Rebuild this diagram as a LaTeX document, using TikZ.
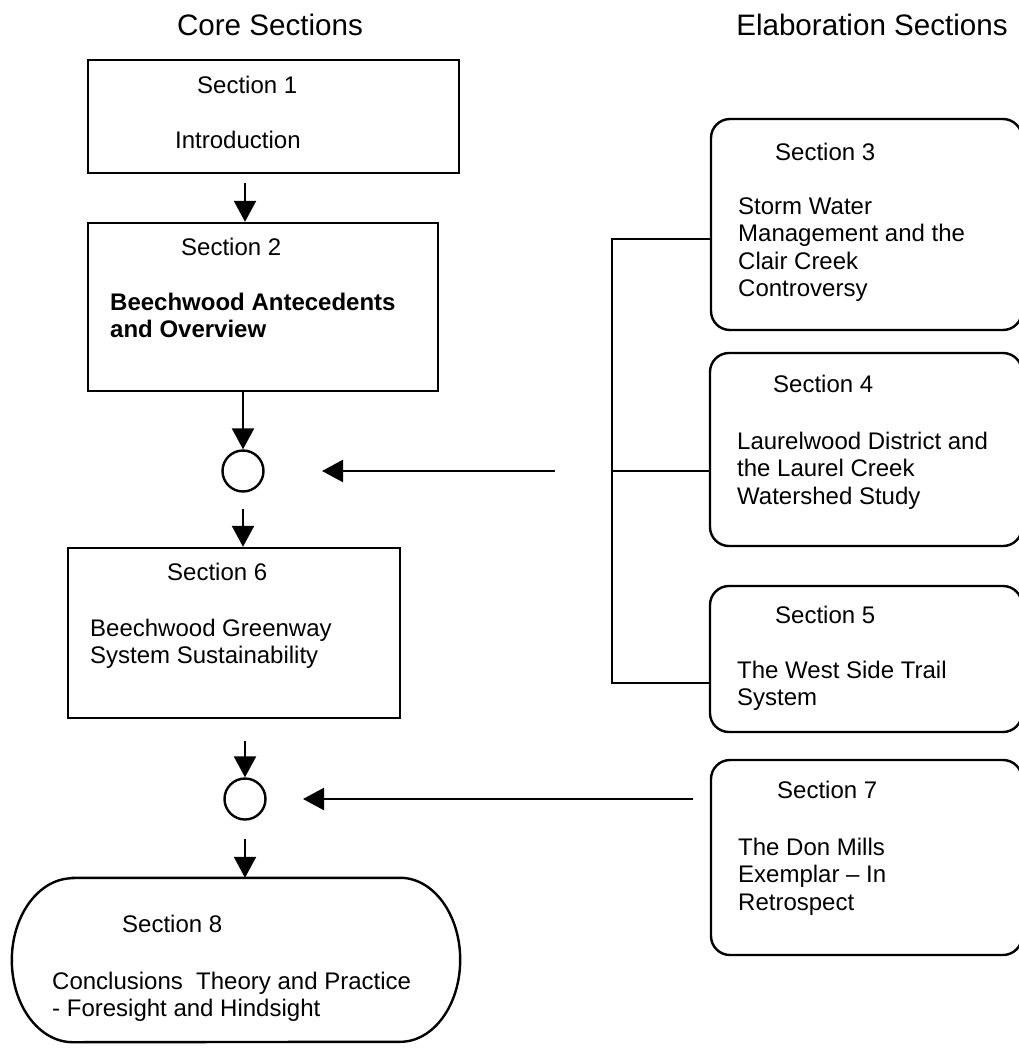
\documentclass[tikz,border=0pt]{standalone}
\usepackage{fontspec}
\setmainfont{Liberation Sans}
\usetikzlibrary{arrows.meta, positioning}
\tikzset{
  corebox/.style  = {rectangle, draw, line width=2.4pt, inner sep=0pt},
  elabbox/.style  = {corebox, rounded corners=19pt},
  pill/.style     = {rectangle, inner sep=0pt},
  junction/.style = {circle, draw, line width=2.4pt, minimum size=41pt, inner sep=0pt},
  flow/.style     = {line width=2.4pt, -{Triangle[length=21pt, width=22pt]}},
  link/.style     = {line width=2pt},
  head/.style     = {font=\fontsize{29.6}{34}\selectfont, inner sep=0pt, anchor=base},
  sec/.style      = {font=\fontsize{24}{27.5}\selectfont, inner sep=0pt, anchor=base west},
  body/.style     = {sec, align=left, anchor=north west},
  bodybf/.style   = {body, font=\fontsize{24}{27.5}\selectfont\bfseries},
}

\begin{document}
\begin{tikzpicture}[x=1pt, y=-1pt]
  \useasboundingbox (0,0) rectangle (1019,1052);
  % ---- headings
  \node[head] (core) at (270,35) {Core Sections};
  \node[head] (elab) at (872,35) {Elaboration Sections};
  % ---- core column
  \node[corebox, minimum width=371pt, minimum height=113pt] (s1) at (273.5,116.5) {};
  \node[sec] (n1) at (197,93) {Section 1};
  \node[sec] (d1) at (175,148) {Introduction};
  \node[corebox, minimum width=350pt, minimum height=168pt] (s2) at (263,307) {};
  \node[sec] (n2) at (181,255) {Section 2};
  \node[bodybf] (d2) at (110,292.5) {Beechwood Antecedents\\and Overview};
  \node[junction] (c1) at (243,471) {};
  \node[corebox, minimum width=332pt, minimum height=170pt] (s6) at (234,633) {};
  \node[sec] (n6) at (167,580) {Section 6};
  \node[body] (d6) at (90,618.5) {Beechwood Greenway\\System Sustainability};
  \node[junction] (c2) at (245,799) {};
  \node[pill, minimum width=327pt, minimum height=164pt] (s8) at (236.5,960) {};
  \draw[line width=2.4pt] (s8.north west) -- (s8.north east)
    arc[start angle=90, end angle=-90, x radius=60pt, y radius=82pt] -- (s8.south west)
    arc[start angle=270, end angle=90, x radius=61pt, y radius=82pt] -- cycle;
  \node[sec] (n8) at (122,932) {Section 8};
  \node[body] (d8) at (52,971.5) {Conclusions\ \ Theory and Practice\\- Foresight and Hindsight};
  % ---- elaboration column
  \node[elabbox, minimum width=311pt, minimum height=211pt] (s3) at (866.5,224.5) {};
  \node[sec] (n3) at (775,160) {Section 3};
  \node[body] (d3) at (738,197.5) {Storm Water\\Management and the\\Clair Creek\\Controversy};
  \node[elabbox, minimum width=312pt, minimum height=193pt] (s4) at (866,449.5) {};
  \node[sec] (n4) at (773,392) {Section 4};
  \node[body] (d4) at (737,431.5) {Laurelwood District and\\the Laurel Creek\\Watershed Study};
  \node[elabbox, minimum width=312pt, minimum height=146pt] (s5) at (866,659) {};
  \node[sec] (n5) at (775,623) {Section 5};
  \node[body] (d5) at (737,660.5) {The West Side Trail\\System};
  \node[elabbox, minimum width=311pt, minimum height=195pt] (s7) at (866.5,857.5) {};
  \node[sec] (n7) at (777,798) {Section 7};
  \node[body] (d7) at (738,837.5) {The Don Mills\\Exemplar \textendash\ In\\Retrospect};
  % ---- core flow
  \coordinate (a1) at (245,183);
  \draw[flow] (a1) -- (a1 |- s2.north);
  \draw[flow] (s2.south -| c1) -- (c1);
  \coordinate (a3) at (243,509);
  \draw[flow] (a3) -- (a3 |- s6.north);
  \coordinate (a4) at (245,741);
  \draw[flow] (a4) -- (c2);
  \coordinate (a5) at (245,839);
  \draw[flow] (a5) -- (a5 |- s8.north);
  % ---- trunk joining sections 3 to 5
  \coordinate (t3) at (612,239);
  \coordinate (t4) at (612,471);
  \coordinate (t5) at (612,683);
  \draw[link] (t3 -| s3.west) -- (t3) -- (t5) -- (t5 -| s5.west);
  \draw[link] (t4) -- (t4 -| s4.west);
  % ---- feeds into the junctions
  \coordinate (f4) at (555,471);
  \coordinate (g4) at (322,471);
  \draw[flow] (f4) -- (g4);
  \coordinate (f7) at (693,799);
  \coordinate (g7) at (303,799);
  \draw[flow] (f7) -- (g7);
\end{tikzpicture}
\end{document}
